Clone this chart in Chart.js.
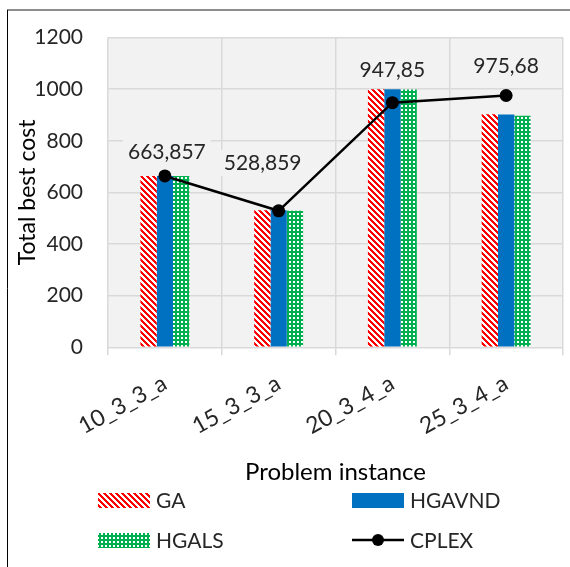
<!DOCTYPE html>
<html>
<head>
<meta charset="utf-8">
<script src="https://cdn.jsdelivr.net/npm/chart.js@4.4.1/dist/chart.umd.min.js"></script>
<style>
  html, body { margin: 0; padding: 0; background: #fff; }
  #wrap { width: 570px; height: 567px; position: relative; }
</style>
</head>
<body>
<div id="wrap"><canvas id="costChart"></canvas></div>
<script>
// chart data
const instances = ['10_3_3_a', '15_3_3_a', '20_3_4_a', '25_3_4_a'];
const gaCost = [664, 531, 1000, 903];
const hgavndCost = [664, 531, 1000, 902];
const hgalsCost = [664, 529, 999, 897];
const cplexCost = [663.857, 528.859, 947.85, 975.68];
const yTicks = [0, 200, 400, 600, 800, 1000, 1200];

// where Excel left each CPLEX label, relative to its point (dx, dy)
const labelShift = [[2, -24], [-16, -48], [0, -32], [0, -29]];

const FONT = 'Lato, "Open Sans", sans-serif';
const PLOT_BG = '#f2f2f2';
const GRID = '#d9d9d9';

// Excel style fill patterns, built pixel by pixel
function makePattern(size, fg, bg, isFg) {
    const c = document.createElement('canvas');
    c.width = size; c.height = size;
    const g = c.getContext('2d');
    g.fillStyle = bg;
    g.fillRect(0, 0, size, size);
    g.fillStyle = fg;
    for (let x = 0; x < size; x++) {
        for (let y = 0; y < size; y++) {
            if (isFg(x, y)) g.fillRect(x, y, 1, 1);
        }
    }
    return document.createElement('canvas').getContext('2d').createPattern(c, 'repeat');
}

const stripeRed = makePattern(6, '#ff0000', '#ffffff', (x, y) => ((x - y + 12) % 6) < 3);
const dotGreen = makePattern(4, '#00b050', '#ffffff', (x, y) => !((x === 1 || x === 2) && (y === 1 || y === 2)));

// gray plot area + the thin frame of the original figure
const backdrop = {
    id: 'backdrop',
    beforeDraw(chart) {
        const { ctx, chartArea: a } = chart;
        ctx.save();
        ctx.fillStyle = PLOT_BG;
        ctx.fillRect(a.left, a.top, a.right - a.left, a.bottom - a.top);
        ctx.strokeStyle = '#8c8c8c';
        ctx.lineWidth = 2;
        ctx.beginPath();
        ctx.moveTo(7, 10); ctx.lineTo(570, 10);
        ctx.stroke();
        ctx.strokeStyle = '#000';
        ctx.lineWidth = 1;
        ctx.beginPath();
        ctx.moveTo(7.5, 10); ctx.lineTo(7.5, 567);
        ctx.stroke();
        ctx.restore();
    }
};

// value labels above the CPLEX points, comma as decimal mark
const cplexLabels = {
    id: 'cplexLabels',
    afterDatasetsDraw(chart) {
        const idx = chart.data.datasets.findIndex(d => d.label === 'CPLEX');
        const meta = chart.getDatasetMeta(idx);
        const ctx = chart.ctx;
        ctx.save();
        ctx.font = '21px ' + FONT;
        ctx.textAlign = 'center';
        ctx.textBaseline = 'middle';
        meta.data.forEach((pt, i) => {
            const txt = String(cplexCost[i]).replace('.', ',');
            const x = pt.x + labelShift[i][0];
            const y = pt.y + labelShift[i][1];
            const w = ctx.measureText(txt).width + 10;
            ctx.fillStyle = PLOT_BG;
            ctx.fillRect(x - w / 2, y - 13, w, 26);
            ctx.fillStyle = '#262626';
            ctx.fillText(txt, x, y);
        });
        ctx.restore();
    }
};

// two column legend like the Excel one
const gridLegend = {
    id: 'gridLegend',
    afterDraw(chart) {
        const ctx = chart.ctx;
        const cols = [98, 352];
        const rows = [500, 540];
        ctx.save();
        ctx.font = '21px ' + FONT;
        ctx.textBaseline = 'middle';
        chart.data.datasets.forEach((ds, i) => {
            const x = cols[i % 2];
            const y = rows[Math.floor(i / 2)];
            if (ds.type === 'line') {
                ctx.strokeStyle = '#000';
                ctx.lineWidth = 2.5;
                ctx.beginPath();
                ctx.moveTo(x, y); ctx.lineTo(x + 52, y);
                ctx.stroke();
                ctx.fillStyle = '#000';
                ctx.beginPath();
                ctx.arc(x + 26, y, 6, 0, Math.PI * 2);
                ctx.fill();
            } else {
                ctx.fillStyle = ds.backgroundColor;
                ctx.fillRect(x, y - 7, 52, 15);
            }
            ctx.fillStyle = '#262626';
            ctx.fillText(ds.label, x + 58, y + 1);
        });
        ctx.restore();
    }
};

new Chart(document.getElementById('costChart'), {
    type: 'bar',
    data: {
        labels: instances,
        datasets: [
            { label: 'GA', data: gaCost, backgroundColor: stripeRed, order: 1 },
            { label: 'HGAVND', data: hgavndCost, backgroundColor: '#0070c0', order: 1 },
            { label: 'HGALS', data: hgalsCost, backgroundColor: dotGreen, order: 1 },
            {
                label: 'CPLEX', type: 'line', data: cplexCost, order: 0,
                borderColor: '#000', borderWidth: 2.5, backgroundColor: '#000',
                pointRadius: 6.5, pointBackgroundColor: '#000', pointBorderWidth: 0,
                tension: 0
            }
        ]
    },
    options: {
        responsive: true,
        maintainAspectRatio: false,
        animation: false,
        layout: { padding: { left: 8, right: 7, top: 30, bottom: 80 } },
        datasets: {
            bar: { barPercentage: 1, categoryPercentage: 0.43, borderWidth: 0 }
        },
        scales: {
            x: {
                grid: { color: GRID, lineWidth: 1.5, tickLength: 8, offset: true },
                border: { display: false },
                ticks: {
                    color: '#262626', font: { family: FONT, size: 23 },
                    minRotation: 29, maxRotation: 29, padding: 14
                },
                title: {
                    display: true, text: 'Problem instance', color: '#000',
                    font: { family: FONT, size: 24 }, padding: { top: 4, bottom: 0 }
                }
            },
            y: {
                min: 0, max: 1200,
                afterFit(scale) { scale.width = 100; },
                afterBuildTicks(scale) { scale.ticks = yTicks.map(v => ({ value: v })); },
                grid: { color: GRID, lineWidth: 1.5, drawTicks: false },
                border: { display: false },
                ticks: {
                    color: '#262626', font: { family: FONT, size: 21 }, padding: 25,
                    callback: v => String(v)
                },
                title: {
                    display: true, text: 'Total best cost', color: '#000',
                    font: { family: FONT, size: 23 }, padding: { top: 6, bottom: 0 }
                }
            }
        },
        plugins: {
            legend: { display: false },
            tooltip: { enabled: false }
        }
    },
    plugins: [backdrop, cplexLabels, gridLegend]
});
</script>
</body>
</html>
